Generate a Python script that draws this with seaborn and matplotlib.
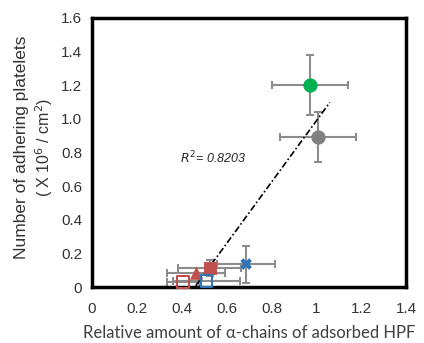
import seaborn as sns
import pandas as pd
import numpy as np
import matplotlib.pyplot as plt

# data
groups = ["g1", "g2", "g3", "g4", "g5", "g6", "g7"]
alpha_x = [0.972, 1.008, 0.687, 0.525, 0.464, 0.510, 0.405]
alpha_err = [0.17, 0.17, 0.13, 0.14, 0.13, 0.15, 0.07]
platelets = [1.20, 0.893, 0.137, 0.113, 0.083, 0.036, 0.030]
platelets_err = [0.18, 0.15, 0.11, 0.05, 0.0, 0.0, 0.0]
colors = ["#00b050", "#808080", "#2e75b6", "#c0504d", "#c0504d", "#2e75b6", "#c0504d"]
markers = ["o", "o", "X", "s", "^", "s", "s"]
filled = [True, True, True, True, True, False, False]
r2_text = "0.8203"

df = pd.DataFrame({"group": groups, "x": alpha_x, "y": platelets,
                   "xerr": alpha_err, "yerr": platelets_err})

sns.set_style("white")
plt.rcParams['font.family'] = ['Liberation Sans', 'DejaVu Sans']

fig = plt.figure(figsize=(4.24, 3.43), dpi=100)
ax = fig.add_axes([0.217, 0.163, 0.741, 0.785])

# error bars first
for i, row in df.iterrows():
    ax.errorbar(row.x, row.y, xerr=row.xerr, yerr=row.yerr if row.yerr > 0 else None,
                fmt="none", ecolor="#8c8c8c", elinewidth=1.5, capsize=3, capthick=1.5,
                zorder=2, clip_on=False)

# regression line (dash-dot)
slope, inter = np.polyfit(df.x, df.y, 1)
lx = np.array([0.462, 1.06])
ax.plot(lx, slope * lx + inter, color="black", lw=1.2, ls=(0, (4, 1.5, 1, 1.5)),
        zorder=3, clip_on=False)

# markers
for i, row in df.iterrows():
    sub = df.iloc[[i]]
    if filled[i]:
        kw = dict(color=colors[i], edgecolor=colors[i] if markers[i] != "X" else "none")
    else:
        kw = dict(facecolor="none", edgecolor=colors[i], linewidth=1.5)
    size = 90 if markers[i] == "o" else 70
    sns.scatterplot(data=sub, x="x", y="y", marker=markers[i], s=size, ax=ax,
                    zorder=4, clip_on=False, legend=False, **kw)

ax.text(0.39, 0.77, "$R^2$= " + r2_text, fontsize=9, style="italic", va="center", ha="left")

ax.set_xlim(0, 1.4)
ax.set_ylim(0, 1.6)
ax.set_xticks(np.arange(0, 1.41, 0.2))
ax.set_xticklabels(["0", "0.2", "0.4", "0.6", "0.8", "1", "1.2", "1.4"])
ax.set_yticks(np.arange(0, 1.61, 0.2))
ax.set_yticklabels(["0", "0.2", "0.4", "0.6", "0.8", "1.0", "1.2", "1.4", "1.6"])
ax.tick_params(direction="in", length=3, width=2, labelsize=11, colors="black",
               labelcolor="#333333")
ax.tick_params(axis="x", pad=11)
ax.tick_params(axis="y", pad=7)

for s in ax.spines.values():
    s.set_visible(True)
    s.set_linewidth(2.5)
    s.set_color("black")

ax.set_xlabel("Relative amount of α-chains of adsorbed HPF", fontsize=12,
              family=["Lato", "DejaVu Sans"], color="#404040", labelpad=6)
ax.set_ylabel("")

# two-line y label, each line placed separately
fig.text(22 / 424, 1 - 147 / 343, "Number of adhering platelets", rotation=90,
         fontsize=12.5, color="#333333", ha="center", va="center")
fig.text(44 / 424, 1 - 147 / 343, "( X 10$^6$ / cm$^2$)", rotation=90,
         fontsize=11.5, color="#333333", ha="center", va="center")

fig.savefig("out.png", dpi=100)
